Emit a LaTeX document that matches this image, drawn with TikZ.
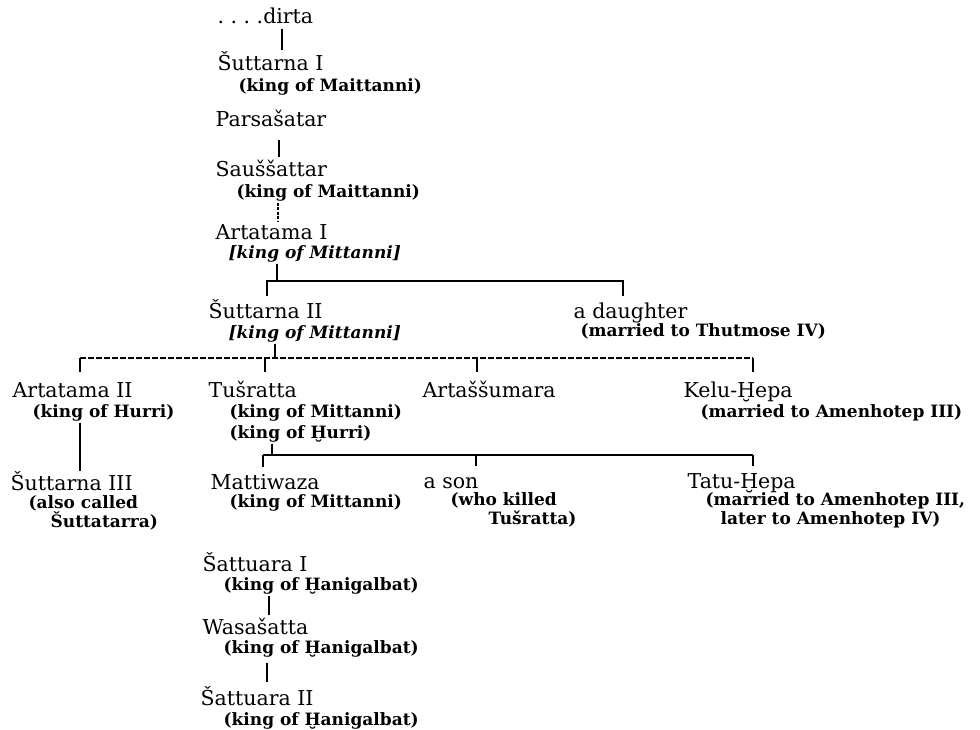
\documentclass[tikz,border=0pt]{standalone}
\usepackage{fontspec}
\setmainfont{DejaVu Serif}
\newcommand{\namefont}{\fontsize{20.5}{24}\selectfont}
\newcommand{\notefont}{\fontsize{17}{20}\selectfont\bfseries}

\begin{document}
\begin{tikzpicture}[x=1pt, y=-1pt, line width=1.3pt,
person/.style={anchor=base west, inner sep=0pt, font=\namefont, text height=15pt, text depth=5pt},
remark/.style={anchor=base west, inner sep=0pt, font=\notefont, text height=12pt, text depth=5pt},
slanted/.style={remark, font=\notefont\itshape},
broken/.style={dash pattern=on 6pt off 2pt},
dotty/.style={dash pattern=on 3pt off 1.5pt}]
        \useasboundingbox (0,0) rectangle (980,729);
        \node [person] (dirta) at (217,23) {.\ .\ .\ .dirta};
        \node [person] (sut1) at (217,70) {Šuttarna I};
        \node [remark] (sut1n) at (238,91) {(king of Maittanni)};
        \node [person] (pars) at (215,126) {Parsašatar};
        \node [person] (saus) at (215,176) {Sauššattar};
        \node [remark] (sausn) at (236,197) {(king of Maittanni)};
        \node [person] (art1) at (215,239) {Artatama I};
        \node [slanted] (art1n) at (228,258) {[king of Mittanni]};
        \node [person] (sut2) at (208,318) {Šuttarna II};
        \node [slanted] (sut2n) at (228,338) {[king of Mittanni]};
        \node [person] (daughter) at (573,318) {a daughter};
        \node [remark] (daughtern) at (580,336) {(married to Thutmose IV)};
        \node [person] (art2) at (12,397) {Artatama II};
        \node [remark] (art2n) at (32,417) {(king of Hurri)};
        \node [person] (tus) at (208,397) {Tušratta};
        \node [remark] (tusn) at (229,417) {(king of Mittanni)};
        \node [remark] (tusn2) at (229,438) {(king of Ḫurri)};
        \node [person] (artsu) at (422,397) {Artaššumara};
        \node [person] (kelu) at (683,397) {Kelu-Ḫepa};
        \node [remark] (kelun) at (700,417) {(married to Amenhotep III)};
        \node [person] (sut3) at (10,490) {Šuttarna III};
        \node [remark] (sut3n) at (28,508) {(also called};
        \node [remark] (sut3n2) at (50,527) {Šuttatarra)};
        \node [person] (matt) at (210,489) {Mattiwaza};
        \node [remark] (mattn) at (229,507) {(king of Mittanni)};
        \node [person] (son) at (423,488) {a son};
        \node [remark] (sonn) at (450,505) {(who killed};
        \node [remark] (sonn2) at (488,524) {Tušratta)};
        \node [person] (tatu) at (687,488) {Tatu-Ḫepa};
        \node [remark] (tatun) at (705,505) {(married to Amenhotep III,};
        \node [remark] (tatun2) at (720,524) {later to Amenhotep IV)};
        \node [person] (sat1) at (202,571) {Šattuara I};
        \node [remark] (sat1n) at (223,590) {(king of Ḫanigalbat)};
        \node [person] (wasa) at (202,634) {Wasašatta};
        \node [remark] (wasan) at (223,653) {(king of Ḫanigalbat)};
        \node [person] (sat2) at (200,705) {Šattuara II};
        \node [remark] (sat2n) at (223,725) {(king of Ḫanigalbat)};
        \coordinate (fam1) at (277,281);
        \coordinate (fam2) at (275,358);
        \coordinate (fam3) at (272,455);
        \draw [shorten >=4pt] ([xshift=65pt]dirta.south west) -- ([xshift=65pt]sut1.north west);
        \draw [shorten <=8pt, shorten >=3pt] ([xshift=64pt]pars.south west) -- ([xshift=64pt]saus.north west);
        \draw [dotty, shorten >=2pt] ([xshift=42pt]sausn.south west) -- ([xshift=42pt]sausn.south west |- art1.north);
        \draw (art1n.south -| fam1) -- (fam1);
        \draw [shorten <=6pt, shorten >=6pt] ([xshift=59pt]sut2.north west) |- (fam1) -| ([xshift=50pt]daughter.north west);
        \draw (sut2n.south -| fam2) -- (fam2);
        \draw [broken] ([xshift=68pt]art2.north west |- fam2) -- ([xshift=70pt]kelu.north west |- fam2);
        \foreach \who/\dx in {art2/68, tus/57, artsu/55, kelu/70}
            \draw [shorten >=9pt] ([xshift=\dx pt]\who.north west |- fam2) -- ([xshift=\dx pt]\who.north west);
        \draw [shorten >=3pt] ([xshift=48pt]art2n.south west) -- ([xshift=48pt]art2n.south west |- sut3.north);
        \draw (tusn2.south -| fam3) -- (fam3);
        \draw ([xshift=53pt]matt.north west |- fam3) -- ([xshift=66pt]tatu.north west |- fam3);
        \foreach \who/\dx in {matt/53, son/53, tatu/66}
            \draw [shorten >=6pt] ([xshift=\dx pt]\who.north west |- fam3) -- ([xshift=\dx pt]\who.north west);
        \draw [shorten >=3pt] ([xshift=46pt]sat1n.south west) -- ([xshift=46pt]sat1n.south west |- wasa.north);
        \draw [shorten <=4pt, shorten >=7pt] ([xshift=44pt]wasan.south west) -- ([xshift=44pt]wasan.south west |- sat2.north);
    \end{tikzpicture}
\end{document}
